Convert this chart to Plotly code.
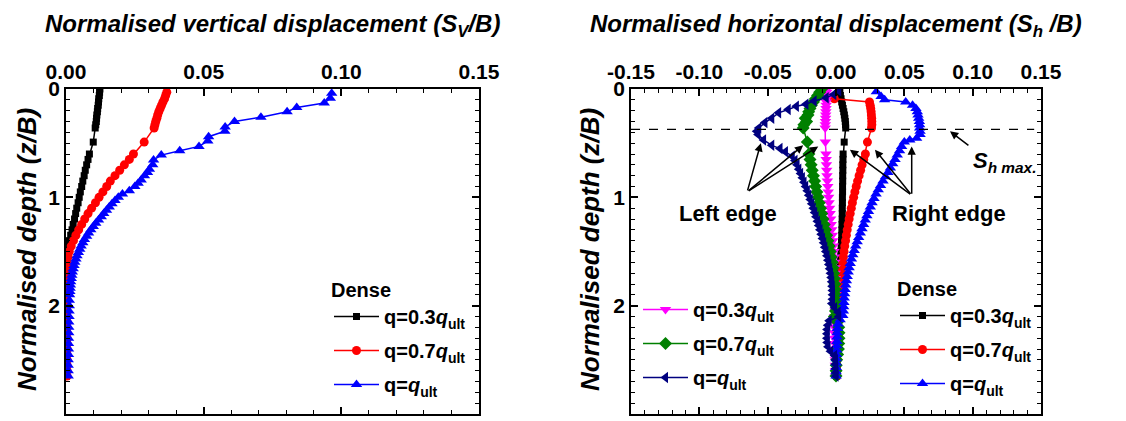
import plotly.graph_objects as go

# ---------------- data ----------------
# shared depth grids (z/B)
Z_TOP = [0.00, 0.03, 0.06, 0.09, 0.12, 0.15, 0.18, 0.21, 0.24, 0.27, 0.30, 0.33, 0.36]
Z_EDGE = [0.49]
Z_LOW = [0.60, 0.65, 0.70, 0.75, 0.80, 0.85, 0.90, 0.95, 1.00, 1.05, 1.10, 1.15, 1.20, 1.25,
         1.30, 1.35, 1.40, 1.45, 1.50, 1.55, 1.60, 1.65, 1.70, 1.75, 1.80, 1.85, 1.90, 1.95,
         2.00, 2.05, 2.10, 2.15, 2.20, 2.25, 2.30, 2.35, 2.40, 2.45, 2.50, 2.55, 2.60, 2.65]

# ---- Left panel: normalised vertical displacement Sv/B ----
SV_03_TOP = [0.0123, 0.0122, 0.0121, 0.0119, 0.0118, 0.0117, 0.0115, 0.0114, 0.0112, 0.0111, 0.0110, 0.0108, 0.0106]
SV_03_EDGE = [0.0099]
SV_03_LOW = [0.0085, 0.0080, 0.0075, 0.0070, 0.0066, 0.0061, 0.0057, 0.0052, 0.0048, 0.0044, 0.0039, 0.0035,
             0.0031, 0.0026, 0.0022, 0.0017, 0.0012, 0.0008, 0.0004, 0.0003, 0.0002, 0.0002, 0.0002, 0.0002,
             0.0002, 0.0002, 0.0002, 0.0002, 0.0002, 0.0002, 0.0002, 0.0002, 0.0002, 0.0002, 0.0002, 0.0002,
             0.0002, 0.0002, 0.0002, 0.0002, 0.0002, 0.0002]

Z_SV07_TOP = [0.03, 0.06, 0.09, 0.12, 0.15, 0.18, 0.21, 0.24, 0.27, 0.30, 0.33, 0.36]
SV_07_TOP = [0.0366, 0.0362, 0.0358, 0.0352, 0.0347, 0.0342, 0.0337, 0.0333, 0.0330, 0.0326, 0.0323, 0.0320]
SV_07_EDGE = [0.0284]
SV_07_LOW = [0.0245, 0.0230, 0.0212, 0.0195, 0.0178, 0.0161, 0.0148, 0.0134, 0.0120, 0.0107, 0.0093, 0.0080,
             0.0068, 0.0057, 0.0046, 0.0036, 0.0027, 0.0019, 0.0012, 0.0008, 0.0005, 0.0004, 0.0004, 0.0004,
             0.0004, 0.0004, 0.0004, 0.0004, 0.0004, 0.0004, 0.0004, 0.0004, 0.0004, 0.0004, 0.0004, 0.0004,
             0.0004, 0.0004, 0.0004, 0.0004, 0.0004, 0.0004]

Z_SV10 = [0.04, 0.086, 0.13, 0.17, 0.21, 0.26, 0.30, 0.35, 0.39, 0.44, 0.48, 0.53, 0.57, 0.61, 0.655, 0.70,
          0.74, 0.77, 0.80, 0.84, 0.87, 0.90, 0.94, 0.97, 1.00, 1.03, 1.06, 1.09, 1.12, 1.15, 1.18, 1.21,
          1.24, 1.27, 1.30, 1.33, 1.36, 1.39, 1.42, 1.45, 1.48, 1.51, 1.54, 1.57, 1.60, 1.63, 1.66, 1.69,
          1.72, 1.75, 1.78, 1.81, 1.84, 1.87, 1.90, 1.95, 2.00, 2.05, 2.10, 2.15, 2.20, 2.25, 2.30, 2.35,
          2.40, 2.45, 2.50, 2.55, 2.60, 2.65]
SV_10 = [0.0965, 0.0960, 0.0938, 0.0838, 0.0803, 0.0708, 0.0612, 0.0578, 0.0577, 0.0518, 0.0515, 0.0483,
         0.0413, 0.0346, 0.0318, 0.0315, 0.0303, 0.0296, 0.0285, 0.0273, 0.0262, 0.0250, 0.0230, 0.0205,
         0.0190, 0.0178, 0.0167, 0.0157, 0.0147, 0.0137, 0.0128, 0.0118, 0.0108, 0.0099, 0.0090, 0.0082,
         0.0075, 0.0067, 0.0061, 0.0055, 0.0050, 0.0045, 0.0040, 0.0036, 0.0032, 0.0029, 0.0026, 0.0023,
         0.0021, 0.0019, 0.0017, 0.0016, 0.0015, 0.0014, 0.0013, 0.0012, 0.0012, 0.0011, 0.0011, 0.0010,
         0.0010, 0.0010, 0.0009, 0.0009, 0.0009, 0.0009, 0.0008, 0.0008, 0.0008, 0.0008]

# ---- Right panel: normalised horizontal displacement Sh/B ----
# right edge of footing (Dense): q=0.3qult, 0.7qult, qult
SH_R03_TOP = [0.0025, 0.0028, 0.0032, 0.0037, 0.0042, 0.0047, 0.0052, 0.0057, 0.0061, 0.0065, 0.0068, 0.0070, 0.0071]
SH_R03_EDGE = [0.0060]
SH_R03_LOW = [0.0052, 0.0051, 0.0050, 0.0050, 0.0049, 0.0049, 0.0048, 0.0048, 0.0047, 0.0047, 0.0046, 0.0046,
              0.0045, 0.0044, 0.0043, 0.0042, 0.0040, 0.0038, 0.0036, 0.0034, 0.0032, 0.0030, 0.0028, 0.0026,
              0.0024, 0.0022, 0.0020, 0.0018, 0.0016, 0.0014, 0.0013, 0.0012, 0.0011, 0.0010, 0.0009, 0.0008,
              0.0008, 0.0007, 0.0007, 0.0006, 0.0006, 0.0005]

Z_SHR07_TOP = [0.09, 0.12, 0.15, 0.18, 0.21, 0.24, 0.27, 0.30, 0.33, 0.36]
SH_R07_TOP = [-0.0012, 0.0245, 0.0250, 0.0254, 0.0257, 0.0259, 0.0261, 0.0262, 0.0262, 0.0260]
SH_R07_EDGE = [0.0230]
SH_R07_LOW = [0.0215, 0.0203, 0.0191, 0.0180, 0.0169, 0.0158, 0.0148, 0.0138, 0.0129, 0.0120, 0.0112, 0.0104,
              0.0096, 0.0089, 0.0082, 0.0076, 0.0070, 0.0064, 0.0059, 0.0054, 0.0049, 0.0045, 0.0041, 0.0037,
              0.0034, 0.0031, 0.0028, 0.0025, 0.0022, 0.0020, 0.0018, 0.0016, 0.0014, 0.0012, 0.0011, 0.0010,
              0.0009, 0.0008, 0.0007, 0.0006, 0.0005, 0.0005]

Z_SHR10 = [0.025, 0.07, 0.10, 0.12, 0.15, 0.18, 0.21, 0.24, 0.27, 0.30, 0.33, 0.36, 0.39, 0.42, 0.455, 0.47,
           0.49, 0.53, 0.57, 0.61, 0.65, 0.69, 0.73, 0.77, 0.81, 0.85, 0.89, 0.93, 0.97, 1.01, 1.05, 1.09,
           1.13, 1.17, 1.21, 1.25, 1.29, 1.33, 1.37, 1.41, 1.45, 1.49, 1.53, 1.57, 1.61, 1.65, 1.69, 1.73,
           1.77, 1.81, 1.85, 1.89, 1.93, 1.97, 2.01, 2.05, 2.09, 2.13, 2.17, 2.21, 2.25, 2.29, 2.33, 2.37,
           2.41, 2.45, 2.49, 2.53, 2.57, 2.61, 2.65]
SH_R10 = [0.0295, 0.0330, 0.0356, 0.0510, 0.0560, 0.0585, 0.0595, 0.0600, 0.0605, 0.0610, 0.0612, 0.0612,
          0.0615, 0.0615, 0.0590, 0.0540, 0.0500, 0.0480, 0.0465, 0.0448, 0.0432, 0.0415, 0.0398, 0.0380,
          0.0362, 0.0344, 0.0326, 0.0309, 0.0293, 0.0278, 0.0264, 0.0251, 0.0238, 0.0226, 0.0214, 0.0202,
          0.0190, 0.0178, 0.0166, 0.0155, 0.0144, 0.0133, 0.0123, 0.0113, 0.0104, 0.0096, 0.0089, 0.0082,
          0.0076, 0.0071, 0.0067, 0.0063, 0.0060, 0.0058, 0.0056, 0.0054, 0.0050, 0.0030, 0.0015, 0.0010,
          0.0008, 0.0008, 0.0007, 0.0006, 0.0005, 0.0003, 0.0002, 0.0002, 0.0001, 0.0001, 0.0001]

# left edge of footing: q=0.3qult, 0.7qult, qult
SH_L03_TOP = [-0.0065, -0.0067, -0.0069, -0.0070, -0.0071, -0.0072, -0.0073, -0.0074, -0.0075, -0.0076, -0.0077, -0.0078, -0.0079]
SH_L03_EDGE = [-0.0078]
SH_L03_LOW = [-0.0073, -0.0072, -0.0070, -0.0068, -0.0066, -0.0063, -0.0060, -0.0057, -0.0054, -0.0051, -0.0047,
              -0.0043, -0.0039, -0.0035, -0.0031, -0.0027, -0.0023, -0.0019, -0.0015, -0.0012, -0.0009, -0.0007,
              -0.0005, -0.0004, -0.0003, -0.0003, -0.0003, -0.0004, -0.0005, -0.0007, -0.0010, -0.0012, -0.0013,
              -0.0013, -0.0012, -0.0011, -0.0010, -0.0008, -0.0006, -0.0005, -0.0004, -0.0003]

SH_L07_TOP = [-0.0105, -0.0120, -0.0135, -0.0150, -0.0165, -0.0180, -0.0190, -0.0200, -0.0205, -0.0225, -0.0215, -0.0235, -0.0240]
SH_L07_EDGE = [-0.0210]
SH_L07_LOW = [-0.0198, -0.0190, -0.0182, -0.0174, -0.0165, -0.0157, -0.0149, -0.0140, -0.0131, -0.0122, -0.0113,
              -0.0104, -0.0095, -0.0086, -0.0077, -0.0068, -0.0059, -0.0050, -0.0042, -0.0035, -0.0028, -0.0022,
              -0.0017, -0.0012, -0.0008, -0.0005, -0.0003, -0.0002, -0.0002, -0.0004, -0.0012, 0.0010, 0.0020,
              0.0022, 0.0022, 0.0020, 0.0018, 0.0012, 0.0005, 0.0002, 0.0001, 0.0000]

Z_SHL10 = [0.016, 0.05, 0.08, 0.11, 0.14, 0.16, 0.19, 0.22, 0.27, 0.31, 0.36, 0.39, 0.42, 0.47, 0.52, 0.55,
           0.58, 0.62, 0.66, 0.70, 0.74, 0.78, 0.82, 0.86, 0.90, 0.94, 0.98, 1.02, 1.06, 1.10, 1.14, 1.18,
           1.22, 1.26, 1.30, 1.34, 1.38, 1.42, 1.46, 1.50, 1.54, 1.58, 1.62, 1.66, 1.70, 1.74, 1.78, 1.82,
           1.86, 1.90, 1.94, 1.98, 2.02, 2.06, 2.10, 2.14, 2.18, 2.22, 2.26, 2.30, 2.34, 2.38, 2.42, 2.46,
           2.50, 2.54, 2.58, 2.62, 2.65]
SH_L10 = [0.0020, -0.0016, -0.0072, -0.0160, -0.0220, -0.0290, -0.0350, -0.0420, -0.0470, -0.0520, -0.0565,
          -0.0580, -0.0570, -0.0530, -0.0470, -0.0410, -0.0370, -0.0320, -0.0300, -0.0285, -0.0272, -0.0259,
          -0.0246, -0.0234, -0.0222, -0.0210, -0.0199, -0.0188, -0.0177, -0.0166, -0.0156, -0.0146, -0.0136,
          -0.0126, -0.0117, -0.0108, -0.0099, -0.0090, -0.0082, -0.0074, -0.0066, -0.0059, -0.0052, -0.0046,
          -0.0040, -0.0035, -0.0031, -0.0028, -0.0026, -0.0025, -0.0026, -0.0030, -0.0010, 0.0015, 0.0020,
          -0.0050, -0.0060, -0.0065, -0.0066, -0.0066, -0.0064, -0.0058, -0.0040, -0.0010, -0.0004, -0.0003,
          -0.0002, -0.0001, 0.0000]

SH_MAX_DEPTH = 0.372   # depth of maximum horizontal displacement (dashed line)

X_TICKS_L = [0.0, 0.05, 0.10, 0.15]
X_TICKTEXT_L = ["0.00", "0.05", "0.10", "0.15"]
X_TICKS_R = [-0.15, -0.10, -0.05, 0.0, 0.05, 0.10, 0.15]
X_TICKTEXT_R = ["-0.15", "-0.10", "-0.05", "0.00", "0.05", "0.10", "0.15"]
Y_TICKS = [0, 1, 2, 3]

LBL_03 = "q=0.3<i>q</i><sub>ult</sub>"
LBL_07 = "q=0.7<i>q</i><sub>ult</sub>"
LBL_10 = "q=<i>q</i><sub>ult</sub>"

# ---------------- figure ----------------
W, H = 1126, 421
FONT = "Liberation Sans, Arial, sans-serif"
fig = go.Figure()


def add(x, y, name, color, symbol, size, xa, ya, legend, rank):
    fig.add_trace(go.Scatter(
        x=x, y=y, name=name, mode="lines+markers",
        line=dict(color=color, width=1.5),
        marker=dict(symbol=symbol, size=size, color=color, line=dict(width=0)),
        xaxis=xa, yaxis=ya, legend=legend, legendrank=rank, legendgroup=name + legend,
    ))


# left panel
add(SV_03_TOP + SV_03_EDGE + SV_03_LOW, Z_TOP + Z_EDGE + Z_LOW, LBL_03, "#000000", "square", 7, "x", "y", "legend", 1)
add(SV_07_TOP + SV_07_EDGE + SV_07_LOW, Z_SV07_TOP + Z_EDGE + Z_LOW, LBL_07, "#FF0000", "circle", 9, "x", "y", "legend", 2)
add(SV_10, Z_SV10, LBL_10, "#0000FF", "triangle-up", 10, "x", "y", "legend", 3)

# right panel
add(SH_R03_TOP + SH_R03_EDGE + SH_R03_LOW, Z_TOP + Z_EDGE + Z_LOW, LBL_03, "#000000", "square", 7, "x2", "y2", "legend3", 1)
add(SH_R07_TOP + SH_R07_EDGE + SH_R07_LOW, Z_SHR07_TOP + Z_EDGE + Z_LOW, LBL_07, "#FF0000", "circle", 9, "x2", "y2", "legend3", 2)
add(SH_L03_TOP + SH_L03_EDGE + SH_L03_LOW, Z_TOP + Z_EDGE + Z_LOW, LBL_03, "#FF00FF", "triangle-down", 10, "x2", "y2", "legend2", 1)
add(SH_L07_TOP + SH_L07_EDGE + SH_L07_LOW, Z_TOP + Z_EDGE + Z_LOW, LBL_07, "#008000", "diamond", 10, "x2", "y2", "legend2", 2)
add(SH_R10, Z_SHR10, LBL_10, "#0000FF", "triangle-up", 10, "x2", "y2", "legend3", 3)
add(SH_L10, Z_SHL10, LBL_10, "#000080", "triangle-left", 10, "x2", "y2", "legend2", 3)

TICKFONT = dict(family=FONT, size=21, color="black", weight="bold")
axis_common = dict(
    showline=True, linecolor="black", linewidth=1.5, mirror="allticks",
    ticks="inside", ticklen=7, tickwidth=1.5, tickcolor="black",
    showgrid=False, zeroline=False, tickfont=TICKFONT, automargin=False,
)
yax = dict(axis_common, range=[3, 0], tickvals=Y_TICKS,
           minor=dict(ticks="inside", ticklen=4, tickwidth=1.2, dtick=0.1, tickcolor="black", showgrid=False))

fig.update_layout(
    width=W, height=H,
    margin=dict(l=0, r=0, t=0, b=0, autoexpand=False),
    paper_bgcolor="white", plot_bgcolor="white",
    font=dict(family=FONT, color="black"),
    hovermode=False,
    xaxis=dict(axis_common, domain=[66 / W, 479 / W], range=[0, 0.15], side="top",
               tickvals=X_TICKS_L, ticktext=X_TICKTEXT_L, anchor="y",
               minor=dict(ticks="inside", ticklen=4, tickwidth=1.2, dtick=0.01, tickcolor="black", showgrid=False)),
    yaxis=dict(yax, domain=[1 - 414 / H, 1 - 89 / H], anchor="x"),
    xaxis2=dict(axis_common, domain=[631 / W, 1041 / W], range=[-0.15, 0.15], side="top",
                tickvals=X_TICKS_R, ticktext=X_TICKTEXT_R, anchor="y2",
                minor=dict(ticks="inside", ticklen=4, tickwidth=1.2, tick0=-0.15, dtick=0.01, tickcolor="black", showgrid=False)),
    yaxis2=dict(yax, domain=[1 - 414 / H, 1 - 89 / H], anchor="x2"),
    showlegend=True,
)

LEGFONT = dict(family=FONT, size=20, color="black", weight="bold")
leg_common = dict(font=LEGFONT, bgcolor="rgba(0,0,0,0)", borderwidth=0, tracegroupgap=5,
                  itemwidth=45, xanchor="left", yanchor="top", traceorder="grouped")
fig.update_layout(
    legend=dict(leg_common, x=329 / W, y=1 - 271 / H,
                title=dict(text="Dense", font=dict(family=FONT, size=20, color="black", weight="bold"))),
    legend2=dict(leg_common, x=638 / W, y=1 - 290 / H),
    legend3=dict(leg_common, x=895 / W, y=1 - 270 / H,
                 title=dict(text="Dense", font=dict(family=FONT, size=20, color="black", weight="bold"))),
)

# axis titles
TITLEFONT = dict(family=FONT, size=24, color="black", weight="bold", style="italic")
YTITLEFONT = dict(family=FONT, size=26, color="black", weight="bold", style="italic")
ann = []
ann.append(dict(text="Normalised vertical displacement (S<sub>V</sub>/B)", xref="paper", yref="paper",
                x=272.5 / W, y=1 - 26 / H, showarrow=False, font=TITLEFONT, xanchor="center", yanchor="middle"))
ann.append(dict(text="Normalised horizontal displacement (S<sub>h</sub> /B)", xref="paper", yref="paper",
                x=836 / W, y=1 - 26 / H, showarrow=False, font=TITLEFONT, xanchor="center", yanchor="middle"))
for xp in (27, 590):
    ann.append(dict(text="Normalised depth (z/B)", xref="paper", yref="paper", x=xp / W, y=1 - 250 / H,
                    textangle=-90, showarrow=False, font=YTITLEFONT, xanchor="center", yanchor="middle"))

LABFONT = dict(family=FONT, size=22, color="black", weight="bold")
ann.append(dict(text="Left edge", x=-0.079, y=1.15, xref="x2", yref="y2", showarrow=False, font=LABFONT))
ann.append(dict(text="Right edge", x=0.083, y=1.15, xref="x2", yref="y2", showarrow=False, font=LABFONT))
ann.append(dict(text="<i>S</i><sub><i>h max.</i></sub>", x=0.123, y=0.67, xref="x2", yref="y2",
                showarrow=False, font=dict(family=FONT, size=22, color="black", weight="bold")))

arrow = dict(xref="x2", yref="y2", axref="x2", ayref="y2", text="", showarrow=True,
             arrowhead=2, arrowsize=1.1, arrowwidth=1.5, arrowcolor="black", standoff=0, startstandoff=0)
for hx, hy in [(-0.055, 0.50), (-0.024, 0.52), (-0.013, 0.53)]:
    ann.append(dict(arrow, x=hx, y=hy, ax=-0.065, ay=0.95))
for hx, hy in [(0.0102, 0.56), (0.0285, 0.56), (0.0554, 0.53)]:
    ann.append(dict(arrow, x=hx, y=hy, ax=0.0554, ay=0.98))
ann.append(dict(arrow, x=0.0834, y=0.39, ax=0.098, ay=0.53))
fig.update_layout(annotations=ann)

fig.add_shape(type="line", xref="x2", yref="y2", x0=-0.15, x1=0.145, y0=SH_MAX_DEPTH, y1=SH_MAX_DEPTH,
              line=dict(color="black", width=1.2, dash="dash"))

fig.write_html("out.html", config={"displayModeBar": False},
               post_script="document.body.style.margin='0px';")
